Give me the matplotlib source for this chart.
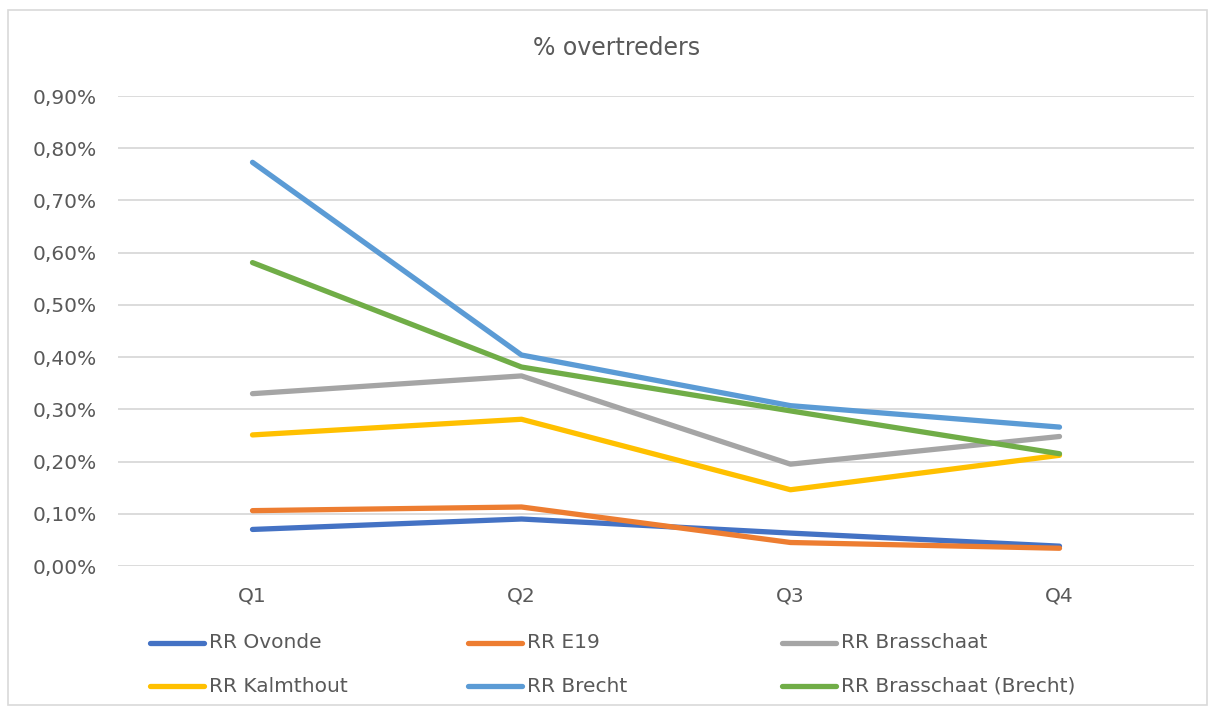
import matplotlib
matplotlib.use("Agg")
import matplotlib.pyplot as plt
from matplotlib.lines import Line2D
from matplotlib.patches import Rectangle
from matplotlib.ticker import FuncFormatter

quarters = ["Q1", "Q2", "Q3", "Q4"]
ovonde = [0.070, 0.090, 0.063, 0.038]
e19 = [0.106, 0.113, 0.045, 0.034]
brasschaat = [0.330, 0.364, 0.195, 0.248]
kalmthout = [0.251, 0.281, 0.146, 0.212]
brecht = [0.773, 0.404, 0.307, 0.266]
brasschaat_brecht = [0.581, 0.381, 0.297, 0.215]

series = [
    ("RR Ovonde", ovonde, "#4472C4"),
    ("RR E19", e19, "#ED7D31"),
    ("RR Brasschaat", brasschaat, "#A5A5A5"),
    ("RR Kalmthout", kalmthout, "#FFC000"),
    ("RR Brecht", brecht, "#5B9BD5"),
    ("RR Brasschaat (Brecht)", brasschaat_brecht, "#70AD47"),
]

TXT = "#595959"
GRID = "#D9D9D9"
W, H = 1211, 709

fig = plt.figure(figsize=(W / 100, H / 100), dpi=100)
fig.patches.append(Rectangle((8 / W, 4 / H), 1199 / W, 695 / H,
                             transform=fig.transFigure, fill=False,
                             edgecolor=GRID, linewidth=1.2))
ax = fig.add_axes([118 / W, 1 - 566 / H, 1076 / W, 470 / H])

for name, vals, col in series:
    ax.plot(range(len(quarters)), vals, color=col, lw=3.8,
            solid_capstyle="round", solid_joinstyle="round", label=name)

ax.set_xlim(-0.5, 3.5)
ax.set_ylim(0, 0.9)
ax.set_yticks([i / 10 for i in range(10)])
ax.yaxis.set_major_formatter(FuncFormatter(lambda v, _: f"{v:.2f}%".replace(".", ",")))
ax.set_xticks(range(len(quarters)))
ax.set_xticklabels(quarters)
ax.tick_params(axis="both", length=0, labelsize=14.5, labelcolor=TXT)
ax.tick_params(axis="y", pad=15)
ax.tick_params(axis="x", pad=15)
ax.grid(axis="y", color=GRID, lw=1.3)
ax.set_axisbelow(True)
for s in ax.spines.values():
    s.set_visible(False)

fig.text(617 / W, 1 - 48 / H, "% overtreders", ha="center", va="center",
         fontsize=17, color=TXT)

# legend drawn by hand: 3 columns, row-major, Excel-style spacing
col_x = [150, 468, 782]
row_y = [643, 686]
for i, (name, _, col) in enumerate(series):
    x0 = col_x[i % 3]
    y0 = 1 - row_y[i // 3] / H
    fig.add_artist(Line2D([x0 / W, (x0 + 54) / W], [y0, y0], color=col, lw=3.8,
                          solid_capstyle="round", transform=fig.transFigure))
    fig.text((x0 + 59) / W, y0, name, ha="left", va="center",
             fontsize=14.5, color=TXT)

fig.savefig("out.png", dpi=100, facecolor="white")
